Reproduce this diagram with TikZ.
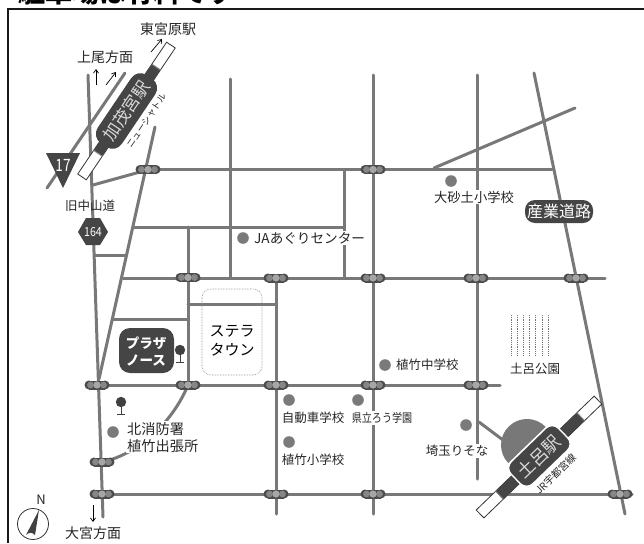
\documentclass[tikz,border=0pt]{standalone}
\usepackage{graphicx}
\usepackage{fontspec}
\usetikzlibrary{arrows.meta}
\setmainfont{Noto Sans CJK JP}
\definecolor{road}{gray}{0.47}
\definecolor{dk}{gray}{0.27}
\definecolor{dotc}{gray}{0.48}
\tikzset{
  roadline/.style={draw=road,line width=3pt,line cap=round},
  thinarrow/.style={draw=black,line width=0.7pt,-{Straight Barb[length=3.5pt,width=5pt]}},
  fs/.style={font=\fontsize{#1}{#1}\selectfont},
  lbl/.style={fs=#1,text=black!85,inner sep=1pt,fill=white},
  lblnb/.style={fs=#1,text=black!85,inner sep=0pt},
  dotm/.style={fill=dotc,draw=none},
  sig/.pic={
    \fill[black!70] (-8,-4.5) rectangle (8,4.5);
    \fill[black!70] (-8,0) circle (4.5) (8,0) circle (4.5);
    \fill[gray!95] (-6.5,0) circle (3.4);
    \fill[gray!95] (6.5,0) circle (3.4);
    \fill[black!35] (0,0) circle (3.6);
  },
  treem/.pic={
    \fill[black!75] (0,0) circle (5.2);
    \draw[black!75,line width=1pt] (0,-4) -- (0,-12) (-4,-12) -- (4,-12);
  }
}
\begin{document}
\begin{tikzpicture}[x=1pt,y=1pt]
\clip (0,0) rectangle (644,-543);
\fill[white] (0,0) rectangle (644,-543);
% title and frame
\node[anchor=base west,inner sep=0pt,text=black,fs=27] (title) at (18,-2.5) {\bfseries 駐車場は有料です};
\draw[black!90,line width=2pt] (8,-543) -- (8,-9) -- (644,-9);
% roads
\draw[roadline] (88,-75) -- (103,-517);
\draw[roadline] (125,-73) -- (47,-188);
\draw[roadline] (155,-127) -- (99,-379);
\draw[roadline] (93,-185) -- (140,-172);
\draw[roadline] (148,-169.5) -- (552,-169.5);
\draw[roadline] (230,-79) -- (230,-278);
\draw[roadline] (133,-227) -- (344,-227) -- (344,-169.5);
\draw[roadline] (344,-227) -- (344,-278);
\draw[roadline] (188,-227) -- (188,-385);
\draw[roadline] (123,-278) -- (605,-278);
\draw[roadline] (95,-255) -- (125,-255);
\draw[roadline] (113,-319) -- (187,-319);
\draw[roadline] (188,-304) -- (276,-304);
\draw[roadline] (276,-278) -- (276,-514);
\draw[roadline] (373,-75) -- (373,-514);
\draw[roadline] (477,-75) -- (477,-479);
\draw[roadline] (534,-73) -- (625,-514);
\draw[roadline] (434,-168) -- (575,-108);
\draw[roadline] (97,-385) -- (500,-385);
\draw[roadline] (103,-494) -- (632,-494);
\draw[roadline] (188,-385) .. controls (178,-410) and (150,-450) .. (103,-462);
\draw[roadline] (479,-422) -- (503,-440);
% signals
\foreach \p in {(148,-169.5),(373,-169.5),(188,-277.5),(276,-278),(373,-278),(476,-278),(576,-278),
  (97,-385),(188,-385),(276,-385),(373,-385),(476,-385),(102,-462),(102,-494),(276,-494),(373,-494),(620,-494)}
  \pic at \p {sig};
% park and town
\draw[black!50,line width=0.6pt,densely dotted,rounded corners=9pt] (202,-289) rectangle (262,-375);
\foreach \x in {511,517.2,523.4,529.6,535.8,542,548}
  \draw[black!55,line width=0.8pt,densely dotted] (\x,-315) -- (\x,-355);
% rounded labels
\fill[dk,rounded corners=11pt] (119,-328) rectangle (174,-373);
\node[fs=13.5,text=white,inner sep=0pt] (pn1) at (146,-343) {\bfseries プラザ};
\node[fs=13.5,text=white,inner sep=0pt] (pn2) at (146,-361) {\bfseries ノース};
\node[fs=15,text=black,inner sep=0pt] (st1) at (232,-331) {ステラ};
\node[fs=15,text=black,inner sep=0pt] (st2) at (232,-350) {タウン};
\node[draw=none,fill=dk,rounded corners=10pt,minimum width=68pt,minimum height=23pt,inner sep=0pt,fs=16,text=white] (sangyo) at (559,-211.5) {産業道路};
% trees
\pic at (180,-350) {treem};
\pic at (121,-402) {treem};
% Kamo station
\begin{scope}[shift={(126.5,-111)},rotate=56]
  \draw[black!80,line width=0.8pt,fill=white] (-79.5,-5.2) rectangle (79.5,5.2);
  \fill[dk] (-51,-5) rectangle (53,5);
  \draw[black!50,line width=1pt] (-51,-5.2) -- (-51,5.2) (53,-5.2) -- (53,5.2);
  \fill[dk,rounded corners=11pt] (-41,-14.5) rectangle (41,14.5);
  \node[fs=17,text=black!15,inner sep=0pt,rotate=56] (kamo) at (0,0) {加茂宮駅};
  \node[fs=9,text=black!85,inner sep=0pt,rotate=56] (ns) at (3,-22) {ニューシャトル};
\end{scope}
% Toro station
\fill[road] (527,-445) ++(44:26) arc (44:224:26) -- cycle;
\begin{scope}[shift={(539,-457)},rotate=44]
  \draw[black!80,line width=0.8pt,fill=white] (-82,-5.5) rectangle (82,5.5);
  \fill[dk] (-55,-5.5) rectangle (58,5.5);
  \draw[black!50,line width=1pt] (-55,-5.5) -- (-55,5.5) (58,-5.5) -- (58,5.5);
  \draw[white,line width=1.4pt,fill=dk,rounded corners=9pt] (-32,-15) rectangle (34,16);
  \node[fs=17.5,text=black!15,inner sep=0pt,rotate=44] (toro) at (0,0) {土呂駅};
  \node[fs=10,text=black!85,inner sep=0pt,rotate=44] (jr) at (0,-24) {JR宇都宮線};
\end{scope}
% route shields
\fill[dk] (46,-153) -- (80,-153) -- (63,-188) -- cycle;
\node[fs=17,text=white,inner sep=0pt] (r17) at (63,-165) {\scalebox{0.8}[1]{17}};
\fill[dk] (78,-232) -- (86,-218) -- (100,-218) -- (108,-232) -- (100,-245) -- (86,-245) -- cycle;
\node[fs=12.5,text=white,inner sep=0pt] (r164) at (93,-232) {\scalebox{0.85}[1]{164}};
% labels
\node[lblnb=14] (a) at (168,-29.5) {東宮原駅};
\node[lblnb=14] (b) at (105,-57) {上尾方面};
\node[lblnb=12.5] (c) at (90,-206) {旧中山道};
\draw[thinarrow] (96,-85) -- (96,-69);
\draw[thinarrow] (106,-85) -- (116,-72);
\draw[thinarrow] (151,-52) -- (162,-39);
\draw[thinarrow] (93,-505) -- (93,-522);
\node[lblnb=14] (d) at (93,-533) {大宮方面};
% place labels
\fill[dotm] (243,-238) circle (5.8);
\node[lbl=13.6,anchor=west] (ja) at (253,-238) {JAあぐりセンター};
\fill[dotm] (451,-181) circle (5.8);
\node[lbl=13.3] (osa) at (474,-197) {大砂土小学校};
\fill[dotm] (113,-432) circle (5.8);
\node[lbl=14.2,anchor=north west,align=left,font=\fontsize{14.2}{17}\selectfont] (kita) at (126,-421) {北消防署\\植竹出張所};
\fill[dotm] (289,-400) circle (5.8);
\node[lblnb=12.5] (jd) at (313,-418) {自動車学校};
\fill[dotm] (289,-442) circle (5.8);
\node[lblnb=12.5] (us) at (313,-460) {植竹小学校};
\fill[dotm] (358,-400) circle (5.8);
\node[lbl=12] (kr) at (382,-418) {\scalebox{0.84}[1]{県立ろう学園}};
\fill[dotm] (385,-365) circle (5.8);
\node[lblnb=12.5,anchor=west] (uc) at (396,-365) {植竹中学校};
\node[lblnb=12.5] (tk) at (535,-369) {土呂公園};
\fill[dotm] (466,-425) circle (5.8);
\node[lbl=12.5] (sr) at (457,-451) {埼玉りそな};
% compass
\draw[black!80,line width=0.8pt] (33,-524) circle (15.5);
\fill[black!75] (39,-510) -- (26,-535) .. controls (29,-532) and (32,-532) .. (35,-535) -- cycle;
\node[fs=13,text=black!85,inner sep=0pt] (n) at (41,-500) {\itshape N};
\end{tikzpicture}
\end{document}
